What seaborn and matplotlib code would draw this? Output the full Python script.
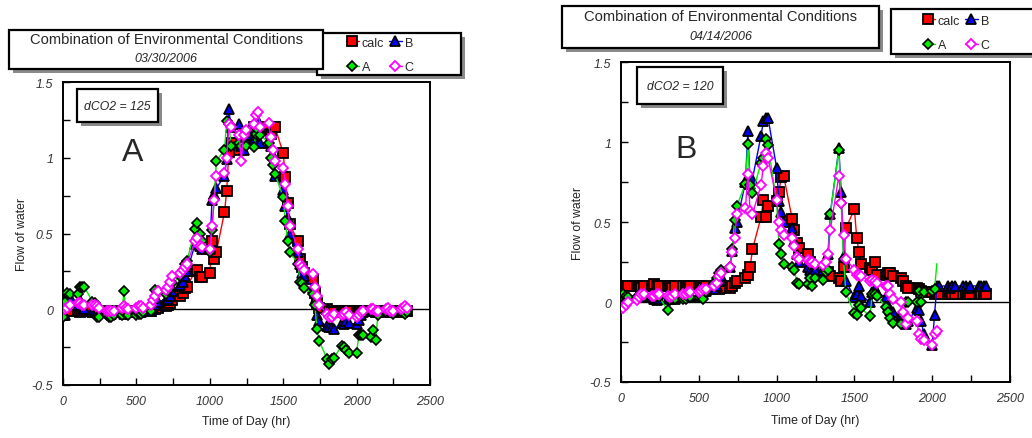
import matplotlib
matplotlib.use('Agg')
import matplotlib.pyplot as plt
from matplotlib.lines import Line2D
from matplotlib.patches import Rectangle
from matplotlib.ticker import MultipleLocator, FuncFormatter
import seaborn as sns

# time of day, hhmm, every 15 minutes
TIME = [0, 15, 30, 45, 100, 115, 130, 145, 200, 215, 230, 245, 300, 315, 330, 345,
        400, 415, 430, 445, 500, 515, 530, 545, 600, 615, 630, 645, 700, 715, 730, 745,
        800, 815, 830, 845, 900, 915, 930, 945, 1000, 1015, 1030, 1045, 1100, 1115, 1130, 1145,
        1200, 1215, 1230, 1245, 1300, 1315, 1330, 1345, 1400, 1415, 1430, 1445, 1500, 1515, 1530, 1545,
        1600, 1615, 1630, 1645, 1700, 1715, 1730, 1745, 1800, 1815, 1830, 1845, 1900, 1915, 1930, 1945,
        2000, 2015, 2030, 2045, 2100, 2115, 2130, 2145, 2200, 2215, 2230, 2245, 2300, 2315, 2330, 2345]

# panel A, 03/30/2006
A_CALC = [-0.01, -0.01, -0.01, -0.01, -0.01, -0.02, -0.01, -0.01,
          -0.01, -0.01, -0.02, -0.01, -0.01, -0.01, -0.01, -0.02,
          -0.01, -0.01, -0.01, -0.01, -0.02, -0.01, -0.01, -0.01,
          -0.01, 0.00, 0.00, 0.01, 0.02, 0.03, 0.04, 0.06,
          0.09, 0.11, 0.14, 0.15, 0.25, 0.26, 0.21, 0.21,
          0.24, 0.45, 0.33, 0.38, 0.64, 0.78, 1.04, 1.10,
          1.05, 1.10, 1.13, 1.16, 1.20, 1.18, 1.18, 1.20,
          1.18, 1.16, 1.20, 1.20, 1.03, 0.87, 0.70, 0.56,
          0.45, 0.33, 0.28, 0.24, 0.20, 0.11, 0.04, 0.01,
          0.00, -0.01, -0.01, -0.02, -0.01, -0.01, -0.02, -0.01,
          -0.01, -0.02, -0.01, -0.01, -0.01, -0.01, -0.02, -0.01,
          -0.01, -0.01, -0.01, -0.02, -0.01, -0.01, -0.01, -0.01]
A_B = [-0.04, -0.04, 0.08, 0.08, 0.03, 0.06, 0.02, 0.00,
       -0.02, -0.01, -0.02, -0.02, -0.02, -0.02, -0.03, -0.02,
       -0.02, -0.03, -0.02, -0.02, -0.02, -0.01, -0.02, -0.01,
       -0.01, 0.01, 0.03, 0.05, 0.06, 0.07, 0.09, 0.12,
       0.16, 0.18, 0.22, 0.25, 0.43, 0.50, 0.42, 0.40,
       0.40, 0.72, 0.76, 0.80, 0.88, 0.99, 1.32, 1.20,
       1.22, 1.08, 1.05, 1.15, 1.12, 1.15, 1.24, 1.10,
       1.10, 1.08, 1.02, 0.88, 0.79, 0.68, 0.60, 0.50,
       0.38, 0.30, 0.24, 0.22, 0.14, 0.06, -0.04, -0.08,
       -0.11, -0.12, -0.12, -0.13, -0.09, -0.10, -0.08, -0.09,
       -0.10, -0.07, -0.04, -0.02, -0.01, 0.00, -0.02, -0.01,
       -0.02, -0.01, -0.02, -0.01, -0.02, -0.01, 0.00, -0.01]
A_A = [-0.05, 0.05, 0.11, 0.10, 0.10, 0.15, 0.15, 0.15,
       0.05, 0.04, -0.05, -0.05, -0.04, -0.05, -0.05, -0.04,
       -0.04, 0.12, -0.03, -0.04, -0.04, -0.03, -0.03, -0.02,
       -0.01, 0.04, 0.13, 0.12, 0.10, 0.12, 0.14, 0.17,
       0.22, 0.25, 0.30, 0.32, 0.53, 0.57, 0.50, 0.45,
       0.38, 0.52, 0.73, 0.98, 1.05, 1.24, 1.22, 1.08,
       1.10, 1.08, 1.15, 1.08, 1.07, 1.16, 1.18, 1.15,
       1.10, 1.00, 0.95, 0.89, 0.74, 0.58, 0.45, 0.38,
       0.30, 0.18, 0.17, 0.14, 0.10, 0.03, -0.13, -0.21,
       -0.33, -0.36, -0.33, -0.32, -0.24, -0.25, -0.27, -0.29,
       -0.29, -0.17, -0.17, -0.17, -0.18, -0.14, -0.20, -0.04,
       -0.02, -0.01, -0.02, -0.03, -0.02, -0.02, -0.03, -0.02]
A_C = [0.00, 0.00, 0.01, 0.03, 0.04, 0.04, 0.03, 0.03,
       0.03, 0.03, 0.02, 0.01, -0.01, -0.01, -0.01, -0.01,
       0.01, 0.02, 0.01, 0.00, 0.01, 0.02, 0.02, 0.01,
       0.03, 0.06, 0.09, 0.12, 0.13, 0.15, 0.18, 0.22,
       0.24, 0.26, 0.28, 0.30, 0.45, 0.47, 0.42, 0.41,
       0.40, 0.55, 0.72, 0.88, 0.90, 1.00, 1.22, 1.20,
       1.15, 0.98, 1.15, 1.18, 1.22, 1.28, 1.30, 1.20,
       1.23, 1.14, 1.05, 0.98, 0.93, 0.83, 0.68, 0.55,
       0.40, 0.30, 0.28, 0.26, 0.23, 0.15, 0.09, 0.03,
       -0.03, -0.05, -0.05, -0.03, -0.04, -0.03, -0.02, -0.04,
       -0.05, -0.04, -0.02, -0.01, 0.00, 0.00, -0.01, -0.01,
       0.00, 0.01, -0.01, -0.01, 0.00, 0.01, 0.02, 0.01]

# panel B, 04/14/2006
B_CALC = [0.10, 0.10, 0.10, 0.10, 0.10, 0.10, 0.09, 0.10,
          0.10, 0.11, 0.10, 0.10, 0.10, 0.10, 0.09, 0.10,
          0.10, 0.10, 0.10, 0.10, 0.10, 0.10, 0.09, 0.10,
          0.09, 0.09, 0.08, 0.09, 0.09, 0.10, 0.12, 0.13,
          0.15, 0.17, 0.22, 0.33, 0.53, 0.64, 0.53, 0.60,
          0.63, 0.69, 0.78, 0.79, 0.52, 0.45, 0.37, 0.34,
          0.30, 0.25, 0.20, 0.20, 0.19, 0.18, 0.19, 0.16,
          0.15, 0.13, 0.22, 0.46, 0.58, 0.40, 0.31, 0.24,
          0.21, 0.20, 0.25, 0.17, 0.17, 0.18, 0.18, 0.16,
          0.15, 0.13, 0.10, 0.09, 0.09, 0.08, 0.07, 0.06,
          0.06, 0.05, 0.06, 0.05, 0.05, 0.06, 0.05, 0.05,
          0.05, 0.05, 0.06, 0.05, 0.05, 0.05, 0.05, 0.05]
B_B = [-0.02, 0.02, 0.03, 0.03, 0.04, 0.05, 0.04, 0.04,
       0.03, 0.02, 0.01, 0.02, 0.02, 0.03, 0.03, 0.02,
       0.03, 0.03, 0.04, 0.04, 0.04, 0.05, 0.06, 0.07,
       0.08, 0.10, 0.13, 0.16, 0.22, 0.32, 0.46, 0.50,
       0.75, 1.07, 0.74, 0.77, 1.04, 1.13, 1.15, 1.15,
       0.84, 0.63, 0.56, 0.50, 0.46, 0.38, 0.30, 0.25,
       0.22, 0.20, 0.19, 0.20, 0.20, 0.22, 0.30, 0.55,
       0.96, 0.69, 0.29, 0.13, 0.03, 0.05, 0.10, 0.04,
       0.00, 0.06, 0.08, 0.06, 0.03, -0.02, -0.05, -0.06,
       -0.08, -0.09, -0.14, -0.12, -0.04, -0.05, -0.12, -0.20,
       -0.27, -0.08, 0.10, 0.10, 0.10, 0.09, 0.10, 0.10,
       0.10, 0.10, 0.09, 0.10, 0.10, 0.10, 0.10, 0.10]
B_A = [0.04, 0.05, 0.04, 0.03, 0.03, 0.04, 0.03, 0.03,
       0.03, 0.04, 0.03, 0.03, -0.05, 0.01, 0.02, 0.02,
       0.02, 0.02, 0.03, 0.03, 0.03, 0.04, 0.02, 0.06,
       0.12, 0.15, 0.18, 0.20, 0.22, 0.33, 0.51, 0.60,
       0.74, 0.99, 0.73, 0.68, 0.87, 0.90, 1.02, 0.98,
       0.63, 0.36, 0.30, 0.24, 0.22, 0.20, 0.12, 0.11,
       0.11, 0.15, 0.10, 0.15, 0.14, 0.19, 0.20, 0.55,
       0.95, 0.62, 0.27, 0.06, -0.07, -0.08, -0.02, -0.04,
       -0.09, 0.05, 0.05, 0.04, -0.03, -0.06, -0.10, -0.13,
       -0.14, -0.08, 0.00, 0.00, 0.00, 0.07, 0.00, 0.06,
       0.07, 0.08, 0.24]
B_C = [-0.04, -0.04, -0.02, 0.00, 0.01, 0.03, 0.05, 0.05,
       0.04, 0.04, 0.05, 0.05, 0.04, 0.03, 0.04, 0.05,
       0.05, 0.05, 0.06, 0.06, 0.06, 0.07, 0.08, 0.08,
       0.10, 0.12, 0.16, 0.18, 0.22, 0.31, 0.40, 0.55,
       0.59, 0.80, 0.57, 0.55, 0.73, 0.85, 0.93, 0.90,
       0.64, 0.50, 0.45, 0.42, 0.40, 0.35, 0.28, 0.27,
       0.26, 0.25, 0.25, 0.24, 0.23, 0.25, 0.30, 0.45,
       0.79, 0.62, 0.42, 0.27, 0.20, 0.17, 0.17, 0.16,
       0.13, 0.14, 0.13, 0.12, 0.10, 0.10, 0.05, 0.02,
       0.00, -0.06, -0.14, -0.10, -0.12, -0.20, -0.23, -0.24,
       -0.27, -0.20, -0.18]

TITLE = 'Combination of Environmental Conditions'
DATES = ['03/30/2006', '04/14/2006']
DCO2 = ['dCO2 = 125', 'dCO2 = 120']
PANELS = ['A', 'B']

RED, BLUE, GREEN, MAG = '#ff0000', '#0000ff', '#00ee00', '#ff00ff'
STYLES = {
    'calc': dict(color=RED, marker='s', markersize=6.5, markerfacecolor=RED,
                 markeredgecolor='black', markeredgewidth=1.3),
    'B': dict(color=BLUE, marker='^', markersize=7, markerfacecolor=BLUE,
              markeredgecolor='black', markeredgewidth=1.3),
    'A': dict(color=GREEN, marker='D', markersize=4.8, markerfacecolor=GREEN,
              markeredgecolor='black', markeredgewidth=1.2),
    'C': dict(color=MAG, marker='D', markersize=5.3, markerfacecolor='white',
              markeredgecolor=MAG, markeredgewidth=1.3),
}

sns.set_style('white')
plt.rcParams['font.family'] = ['Liberation Sans', 'DejaVu Sans']

W, H = 1032, 439
fig = plt.figure(figsize=(W / 100, H / 100), dpi=100)


def fx(px):
    return px / W


def fy(py):
    return 1 - py / H


def shadow_box(x0, y0, x1, y1, off=4):
    fig.add_artist(Rectangle((fx(x0 + off), fy(y1 + off)), (x1 - x0) / W, (y1 - y0) / H,
                             transform=fig.transFigure, facecolor='#8a8a8a',
                             edgecolor='none', zorder=5))
    fig.add_artist(Rectangle((fx(x0), fy(y1)), (x1 - x0) / W, (y1 - y0) / H,
                             transform=fig.transFigure, facecolor='white',
                             edgecolor='black', lw=1.6, zorder=6))


def draw_panel(rect, data):
    ax = fig.add_axes(rect)
    ax.axhline(0, color='black', lw=1, zorder=1)
    for name in ['calc', 'B', 'A', 'C']:
        vals = data[name]
        kw = dict(STYLES[name])
        if len(vals) < len(TIME) and name == 'A':
            # the last green segment ends without a marker
            kw['markevery'] = list(range(len(vals) - 1))
        sns.lineplot(x=TIME[:len(vals)], y=vals, ax=ax, linewidth=1, sort=False,
                     legend=False, zorder=3, **kw)
    ax.set_xlim(0, 2500)
    ax.set_ylim(-0.5, 1.5)
    ax.xaxis.set_major_locator(MultipleLocator(500))
    ax.xaxis.set_minor_locator(MultipleLocator(250))
    ax.yaxis.set_major_locator(MultipleLocator(0.5))
    ax.yaxis.set_minor_locator(MultipleLocator(0.25))
    fmt = FuncFormatter(lambda v, _: f'{v:g}')
    ax.xaxis.set_major_formatter(fmt)
    ax.yaxis.set_major_formatter(fmt)
    ax.tick_params(which='both', direction='in', length=5, width=1, color='black',
                   left=True, bottom=True, top=False, right=False)
    ax.tick_params(which='major', labelsize=9, labelcolor='#333333', pad=7)
    for lab in ax.get_xticklabels() + ax.get_yticklabels():
        lab.set_fontstyle('italic')
    for sp in ax.spines.values():
        sp.set_color('black')
        sp.set_linewidth(1.4)
    ax.set_xlabel('Time of Day (hr)', fontsize=8.8, color='#222222')
    ax.set_ylabel('Flow of water', fontsize=8.8, color='#222222')
    return ax


axL = draw_panel([fx(63), 1 - 386 / H, 367 / W, 303 / H],
                 {'calc': A_CALC, 'B': A_B, 'A': A_A, 'C': A_C})
axR = draw_panel([fx(621), 1 - 383 / H, 389 / W, 320 / H],
                 {'calc': B_CALC, 'B': B_B, 'A': B_A, 'C': B_C})
axL.xaxis.set_label_coords(0.5, -0.10)
axL.yaxis.set_label_coords(-0.095, 0.5)
axR.xaxis.set_label_coords(0.5, -0.10)
axR.yaxis.set_label_coords(-0.095, 0.5)

handles = [Line2D([], [], linewidth=1, **STYLES[n]) for n in ['calc', 'A', 'B', 'C']]

# header boxes: title, legend, dCO2, panel letter
layout = [
    dict(title=(9, 31, 323, 70), t1=40, t2=59, leg=(317, 34, 461, 76), legc=(380, 56),
         dco=(77, 90, 158, 123), letter=(133, 153)),
    dict(title=(562, 7, 879, 49), t1=17, t2=37, leg=(891, 10, 1045, 55), legc=(956, 34),
         dco=(637, 68, 723, 105), letter=(686, 150)),
]
for i, L in enumerate(layout):
    x0, y0, x1, y1 = L['leg']
    shadow_box(x0, y0, x1, y1)
    leg = fig.legend(handles, ['calc', 'A', 'B', 'C'], ncol=2, loc='center',
                     bbox_to_anchor=(fx(L['legc'][0]), fy(L['legc'][1])),
                     frameon=False, fontsize=9, handlelength=1.0, handletextpad=0.25,
                     columnspacing=0.4, labelspacing=1.0)
    leg.set_zorder(7)
    x0, y0, x1, y1 = L['title']
    shadow_box(x0, y0, x1, y1)
    cx = (x0 + x1) / 2
    fig.text(fx(cx), fy(L['t1']), TITLE, ha='center', va='center', fontsize=10.6, zorder=7)
    fig.text(fx(cx), fy(L['t2']), DATES[i], ha='center', va='center', fontsize=9,
             style='italic', zorder=7)
    x0, y0, x1, y1 = L['dco']
    shadow_box(x0, y0, x1, y1)
    fig.text(fx((x0 + x1) / 2), fy((y0 + y1) / 2), DCO2[i], ha='center', va='center',
             fontsize=8.8, style='italic', zorder=7)
    fig.text(fx(L['letter'][0]), fy(L['letter'][1]), PANELS[i], ha='center', va='center',
             fontsize=23, zorder=7)

fig.savefig('out.png', dpi=100)
